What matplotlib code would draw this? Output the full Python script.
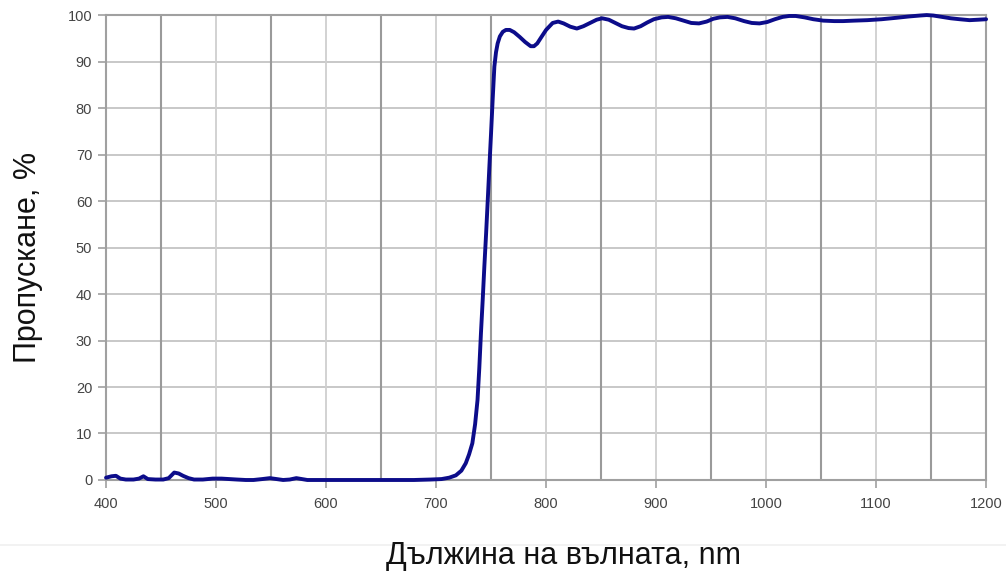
import numpy as np
import matplotlib.pyplot as plt
from matplotlib.lines import Line2D

plt.rcParams["font.family"] = ["Liberation Sans", "DejaVu Sans"]

# transmission spectrum of the long-pass filter
wavelength = [400, 405, 409, 413, 418, 425, 430, 434, 438, 445, 452, 457, 462, 466, 470, 475,
              480, 488, 497, 505, 512, 519, 527, 534, 542, 549, 555, 561, 567, 573, 578, 583,
              600, 620, 640, 660, 680, 695, 705, 712, 718, 723, 727, 730, 733, 735.5, 737.7,
              739.3, 740.8, 742.4, 743.9, 745.5, 747, 748.5, 750, 751.5, 753, 754.5, 756, 758,
              760.7, 763.5, 767, 771, 776, 781, 786, 789, 792, 795, 800, 806, 811, 816, 822, 828,
              834, 840, 846, 851, 857, 863, 869, 875, 880, 886, 892, 898, 905, 911, 918, 925,
              932, 939, 946, 952, 958, 965, 972, 980, 987, 994, 1001, 1008, 1015, 1021, 1027,
              1035, 1043, 1052, 1062, 1070, 1080, 1092, 1105, 1118, 1130, 1140, 1146, 1152,
              1160, 1168, 1176, 1185, 1193, 1200]
transmission = [0.5, 0.8, 0.9, 0.3, 0.1, 0.1, 0.3, 0.8, 0.2, 0.1, 0.1, 0.4, 1.6, 1.4, 0.9, 0.4,
                0.1, 0.1, 0.3, 0.3, 0.2, 0.1, 0.0, 0.0, 0.2, 0.4, 0.2, 0.0, 0.1, 0.4, 0.2, 0.0,
                0.0, 0.0, 0.0, 0.0, 0.0, 0.1, 0.2, 0.5, 1.0, 2.0, 3.6, 5.5, 7.9, 12.0, 17.2,
                24.0, 31.5, 38.7, 45.9, 53.0, 60.2, 67.5, 74.6, 82.0, 88.9, 92.0, 93.9, 95.4,
                96.4, 96.8, 96.8, 96.3, 95.3, 94.2, 93.3, 93.3, 93.9, 95.0, 96.8, 98.3, 98.6, 98.2,
                97.5, 97.1, 97.6, 98.3, 99.0, 99.3, 99.0, 98.3, 97.6, 97.2, 97.1, 97.6, 98.4,
                99.1, 99.5, 99.6, 99.3, 98.8, 98.3, 98.2, 98.6, 99.2, 99.5, 99.6, 99.3, 98.7,
                98.3, 98.2, 98.5, 99.1, 99.6, 99.8, 99.8, 99.5, 99.1, 98.8, 98.7, 98.7, 98.8,
                98.9, 99.1, 99.4, 99.7, 99.9, 100.0, 99.9, 99.6, 99.3, 99.1, 98.9, 99.0, 99.1]

x_ticks = np.arange(400, 1201, 100)
y_ticks = np.arange(0, 101, 10)
mid_grid = np.arange(450, 1200, 100)

fig = plt.figure(figsize=(10.06, 5.79), dpi=100)
ax = fig.add_axes([0.1054, 0.171, 0.8748, 0.803])

ax.set_xlim(400, 1200)
ax.set_ylim(0, 100)

# grid: light lines at hundreds, darker ones halfway between
for y in y_ticks[1:-1]:
    ax.axhline(y, color="#c4c4c4", lw=1.3, zorder=1)
for x in x_ticks[1:-1]:
    ax.axvline(x, color="#cfcfcf", lw=1.3, zorder=1)
for x in mid_grid:
    ax.axvline(x, color="#9a9a9a", lw=1.5, zorder=1)

ax.plot(wavelength, transmission, color="#0c0c8a", lw=2.8, solid_capstyle="round",
        zorder=3, clip_on=False)

for side in ["left", "right", "top", "bottom"]:
    ax.spines[side].set_color("#a0a0a0")
    ax.spines[side].set_linewidth(1.5)

ax.set_xticks(x_ticks)
ax.set_yticks(y_ticks)
ax.tick_params(axis="both", colors="#a0a0a0", length=6, width=1.2, labelsize=10.5,
               labelcolor="#444444")
ax.tick_params(axis="x", pad=6)
ax.tick_params(axis="y", pad=4)

fig.text(0.028, 0.555, "Пропускане, %", rotation=90, fontsize=22,
         ha="center", va="center", color="#111111")
fig.text(0.56, 0.04, "Дължина на вълната, nm", fontsize=22,
         ha="center", va="center", color="#111111")

# faint separator under the tick labels
fig.add_artist(Line2D([0, 1], [1 - 545 / 579, 1 - 545 / 579], transform=fig.transFigure,
                      color="#f0f0f0", lw=1.2))

fig.savefig("out.png", dpi=100)
